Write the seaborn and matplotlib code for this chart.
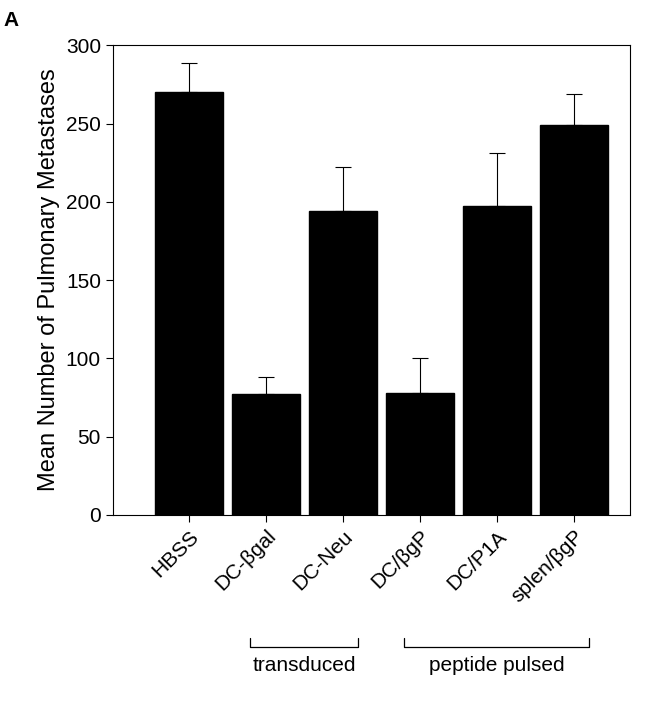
import matplotlib
matplotlib.use("Agg")
import matplotlib.pyplot as plt
import seaborn as sns
import pandas as pd

groups = ["HBSS", "DC-βgal", "DC-Neu", "DC/βgP", "DC/P1A", "splen/βgP"]
means = [270, 77, 194, 78, 197, 249]
errors = [19, 11, 28, 22, 34, 20]
brackets = [("transduced", 1, 2), ("peptide pulsed", 3, 5)]

sns.set_style("ticks")
plt.rcParams["font.family"] = "Liberation Sans"
plt.rcParams["text.color"] = "black"
plt.rcParams["axes.labelcolor"] = "black"
plt.rcParams["xtick.color"] = "black"
plt.rcParams["ytick.color"] = "black"
plt.rcParams["axes.edgecolor"] = "black"

df = pd.DataFrame({"group": groups, "mean": means})

fig = plt.figure(figsize=(6.48, 7.19), dpi=100)
ax = fig.add_axes([0.174, 0.284, 0.798, 0.653])
sns.barplot(data=df, x="group", y="mean", color="black", width=0.88,
            edgecolor="black", ax=ax)
ax.errorbar(range(len(groups)), means, yerr=[[0] * len(groups), errors],
            fmt="none", ecolor="black", elinewidth=0.8, capsize=6, capthick=0.8)
ax.set_xlim(-0.99, 5.73)
ax.set_ylim(0, 300)
ax.set_yticks(range(0, 301, 50))
ax.set_ylabel("Mean Number of Pulmonary Metastases", fontsize=17)
ax.set_xlabel("")
ax.set_xticks(range(len(groups)))
ax.set_xticklabels(groups, rotation=45, ha="right", rotation_mode="anchor", fontsize=15)
ax.tick_params(axis="y", labelsize=15, direction="out", length=5)
ax.tick_params(axis="x", direction="out", length=5)
sns.despine(ax=ax, right=False, top=False)

# bracket lines below tick labels
trans = ax.get_xaxis_transform()
for label, a, b in brackets:
    y0, y1 = -0.262, -0.282
    ax.plot([a - 0.2, a - 0.2, b + 0.2, b + 0.2], [y0, y1, y1, y0],
            color="black", lw=0.9, transform=trans, clip_on=False)
    ax.text((a + b) / 2, -0.30, label, transform=trans, ha="center", va="top",
            fontsize=15)

fig.text(0.005, 0.985, "A", fontsize=15, fontweight="bold", va="top")
fig.savefig("out.png")
